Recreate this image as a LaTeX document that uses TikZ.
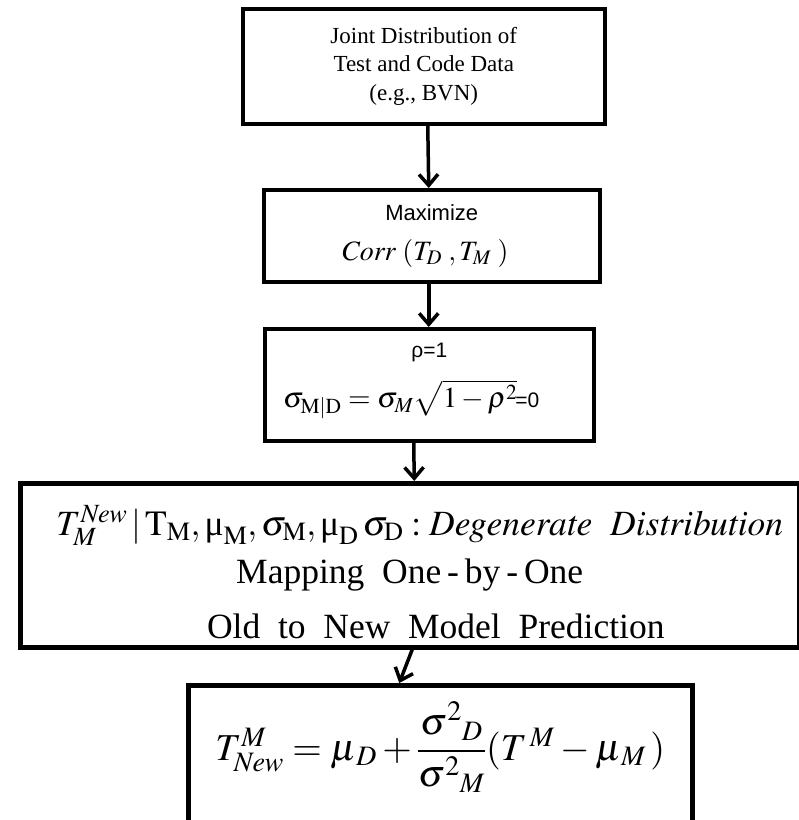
\documentclass[tikz,border=0pt]{standalone}
\usepackage{amsmath}
\usepackage{mathptmx}
\usepackage{fontspec}
\setmainfont{Liberation Serif}
\newfontfamily\arialfont{Liberation Sans}
\usetikzlibrary{arrows.meta,positioning,calc}

\begin{document}
\begin{tikzpicture}[x=1pt, y=-1pt,
  box/.style={draw,line width=3.5pt,anchor=north west,align=center,inner sep=0pt},
  arr/.style={line width=3.5pt,-{Straight Barb[length=11pt,width=19pt]}}]
  \useasboundingbox (0,0) rectangle (799,820);
  % boxes, top to bottom
  \node[box,minimum width=362pt,minimum height=115pt,
    font=\fontsize{23}{28.5}\selectfont] (joint) at (241,7)
    {Joint Distribution of\\Test and Code Data\\(e.g., BVN)};
  \node[box,minimum width=336pt,minimum height=92pt,
    font=\fontsize{22}{40}\selectfont] (maxi) at (262,188)
    {{\arialfont Maximize}\\
     {\fontsize{28}{30}\selectfont $\mathit{Corr}\;(T_D\;, T_M\;)$}\hspace*{14pt}};
  \node[box,minimum width=329pt,minimum height=112pt,
    font=\fontsize{21}{50}\selectfont] (rho) at (263,327)
    {{\arialfont ρ=1}\\
     {\fontsize{29}{30}\selectfont $\sigma_{\mathrm{M|D}} = \sigma_M \sqrt{1-\rho^2}$%
      \hspace{-2pt}{\arialfont\fontsize{21}{22}\selectfont=0}}\rule[-18pt]{0pt}{18pt}\hspace*{36pt}};
  \node[box,line width=4.5pt,minimum width=779pt,minimum height=164pt,
    font=\fontsize{35.5}{48}\selectfont] (degen) at (18,481)
    {\rule{0pt}{44pt}\hspace*{20pt}$T_M^{\mathit{New}} \,|\, \mathrm{T_M}, \text{μ}_{\mathrm{M}}, \sigma_{\mathrm{M}},
      \text{μ}_{\mathrm{D}}\, \sigma_{\mathrm{D}} : \mathit{Degenerate\ \ Distribution}$\\
     Mapping~~One\,-\,by\,-\,One\hspace*{26pt}\\[7pt]
     \hspace*{52pt}Old~~to~~New~~Model~~Prediction};
  \node[box,line width=4.5pt,minimum width=504pt,text height=75pt,text depth=85pt,
    font=\fontsize{38}{42}\selectfont] (pred) at (186,683)
    {$T^{M}_{\mathit{New}} = \mu_{\,D} + \dfrac{\sigma^{2}{}_{D}}{\sigma^{2}{}_{M}}(T^{\,M} - \mu_{\,M}\,)$};
  % arrows between boxes
  \draw[arr] ($(joint.south)+(4,0)$) -- ($(maxi.north)+(-3,0)$);
  \draw[arr] ($(maxi.south)+(-3,0)$) -- ($(rho.north)+(-0.5,0)$);
  \draw[arr] ($(rho.south)+(-15.5,0)$) -- ($(degen.north)+(4.5,0)$);
  \draw[arr] ($(degen.south)+(2.5,0)$) -- ($(pred.north)+(-41,0)$);
\end{tikzpicture}
\end{document}
